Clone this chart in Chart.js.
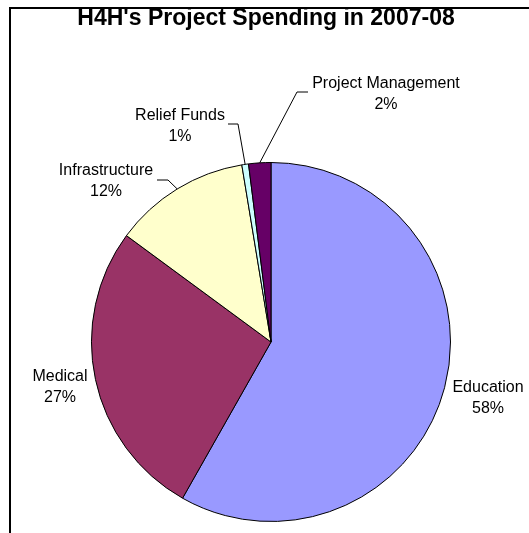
<!DOCTYPE html>
<html>
<head>
<meta charset="utf-8">
<script src="https://cdn.jsdelivr.net/npm/chart.js@4"></script>
<style>
  body { margin: 0; background: #fff; }
  canvas { display: block; }
</style>
</head>
<body>
<canvas id="spendingChart" width="529" height="533"></canvas>
<script>
var titleText = "H4H's Project Spending in 2007-08";
var categories = ["Education", "Medical", "Infrastructure", "Relief Funds", "Project Management"];
var spending = [58.2, 26.9, 12.3, 0.6, 2.0];
var sliceColors = ["#9999ff", "#993366", "#ffffcc", "#ccffff", "#660066"];

// label placement: center x, first baseline y, optional leader line (start, elbow)
var labelLayout = [
  { x: 488, y: 392 },
  { x: 60, y: 381 },
  { x: 106, y: 175, line: [[157, 180], [168, 180]] },
  { x: 180, y: 120, line: [[228, 124], [238, 124]] },
  { x: 386, y: 88, line: [[308, 92], [297, 92]] },
];

var labelPlugin = {
  id: "labelPlugin",
  afterDraw: function (chart) {
    var c = chart.ctx;
    var meta = chart.getDatasetMeta(0);
    var total = spending.reduce(function (a, b) { return a + b; }, 0);
    c.save();

    // frame
    c.strokeStyle = "#000";
    c.lineWidth = 2;
    c.strokeRect(10, 8, 600, 600);

    // title
    c.fillStyle = "#000";
    c.font = "bold 23px 'Liberation Sans', Arial, sans-serif";
    c.textAlign = "center";
    c.textBaseline = "alphabetic";
    c.fillText(titleText, 266, 25);

    c.font = "16px 'Liberation Sans', Arial, sans-serif";
    meta.data.forEach(function (arc, i) {
      var lay = labelLayout[i];
      if (lay.line) {
        var mid = (arc.startAngle + arc.endAngle) / 2;
        c.beginPath();
        c.lineWidth = 1;
        c.strokeStyle = "#000";
        c.moveTo(lay.line[0][0], lay.line[0][1]);
        c.lineTo(lay.line[1][0], lay.line[1][1]);
        c.lineTo(arc.x + Math.cos(mid) * arc.outerRadius, arc.y + Math.sin(mid) * arc.outerRadius);
        c.stroke();
      }
      var pct = Math.round(spending[i] / total * 100) + "%";
      c.fillText(categories[i], lay.x, lay.y);
      c.fillText(pct, lay.x, lay.y + 21);
    });
    c.restore();
  },
};

var ctx = document.getElementById("spendingChart").getContext("2d");
var spendingChart = new Chart(ctx, {
  type: "pie",
  plugins: [labelPlugin],
  data: {
    labels: categories,
    datasets: [
      {
        data: spending,
        backgroundColor: sliceColors,
        borderColor: "#000",
        borderWidth: 1,
      },
    ],
  },
  options: {
    responsive: false,
    animation: false,
    layout: {
      padding: { left: 91, right: 78, top: 162, bottom: 11 },
    },
    plugins: {
      legend: { display: false },
      tooltip: { enabled: false },
      title: { display: false },
    },
  },
});
</script>
</body>
</html>
